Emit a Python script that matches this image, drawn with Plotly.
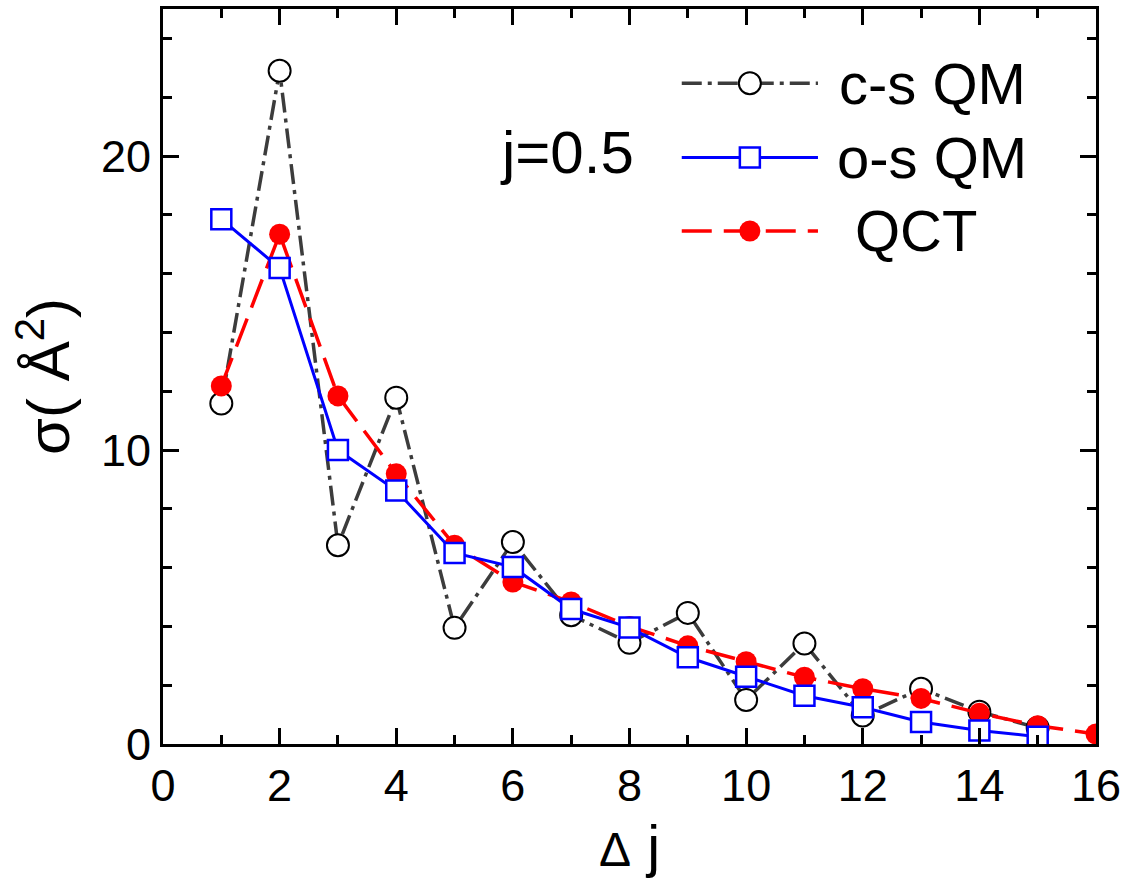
import plotly.graph_objects as go

# ---- data ----
dj_cs = [1, 2, 3, 4, 5, 6, 7, 8, 9, 10, 11, 12, 13, 14, 15]
sigma_cs = [11.58, 22.9, 6.76, 11.78, 3.95, 6.87, 4.38, 3.44, 4.46, 1.50, 3.42, 0.97, 1.88, 1.10, 0.55]

dj_os = [1, 2, 3, 4, 5, 6, 7, 8, 9, 10, 11, 12, 13, 14, 15]
sigma_os = [17.85, 16.19, 10.0, 8.62, 6.50, 6.02, 4.59, 3.96, 2.95, 2.29, 1.64, 1.25, 0.75, 0.46, 0.25]

dj_qct = [1, 2, 3, 4, 5, 6, 7, 8, 9, 10, 11, 12, 13, 14, 15, 16]
sigma_qct = [12.18, 17.34, 11.84, 9.19, 6.76, 5.51, 4.83, 4.00, 3.34, 2.80, 2.27, 1.88, 1.55, 1.05, 0.62, 0.34]

names = ["c-s QM", "o-s QM", "QCT"]
x_ticks = [0, 2, 4, 6, 8, 10, 12, 14, 16]
y_ticks = [0, 10, 20]

FONT = "Arial, Liberation Sans, sans-serif"
GRAY = "#3c3c3c"
BLUE = "#0000ff"
RED = "#ff0000"

cs_line = dict(color=GRAY, width=3.5, dash="20px,6px,4px,6px")
cs_marker = dict(symbol="circle", size=22, color="white", line=dict(color="black", width=2))
os_line = dict(color=BLUE, width=3)
os_marker = dict(symbol="square", size=20, color="white", line=dict(color=BLUE, width=2.5))
qct_line = dict(color=RED, width=3.5, dash="30px,12px")
qct_marker = dict(symbol="circle", size=21, color=RED, line=dict(color=RED, width=0))

fig = go.Figure()
fig.add_trace(go.Scatter(x=dj_cs, y=sigma_cs, mode="lines+markers", name=names[0],
                         line=cs_line, marker=cs_marker, showlegend=False))
fig.add_trace(go.Scatter(x=dj_qct, y=sigma_qct, mode="lines+markers", name=names[2],
                         line=qct_line, marker=qct_marker, showlegend=False))
fig.add_trace(go.Scatter(x=dj_os, y=sigma_os, mode="lines+markers", name=names[1],
                         line=os_line, marker=os_marker, showlegend=False))

# ---- hand-drawn legend on an overlay axis in plot-fraction units ----
leg_rows = [0.899, 0.798, 0.698]
leg_x0, leg_x1, leg_xm = 0.556, 0.702, 0.629
styles = [(cs_line, cs_marker), (os_line, os_marker), (qct_line, qct_marker)]
for (ln, mk), yr in zip(styles, leg_rows):
    fig.add_trace(go.Scatter(x=[leg_x0, leg_x1], y=[yr, yr], mode="lines", line=ln,
                             xaxis="x2", yaxis="y2", showlegend=False, hoverinfo="skip"))
    fig.add_trace(go.Scatter(x=[leg_xm], y=[yr], mode="markers", marker=mk,
                             xaxis="x2", yaxis="y2", showlegend=False, hoverinfo="skip"))

leg_text_x = [0.7224, 0.7205, 0.7395]
for nm, yr, xt in zip(names, leg_rows, leg_text_x):
    fig.add_annotation(x=xt, y=yr, xref="x2", yref="y2", text=nm, showarrow=False,
                       xanchor="left", yanchor="middle", font=dict(family=FONT, size=58, color="black"))

fig.add_annotation(x=(498 - 163) / 933, y=(744 - 150) / 738, xref="x2", yref="y2", text="j=0.5",
                   showarrow=False, xanchor="left", yanchor="middle",
                   font=dict(family=FONT, size=60, color="black"))

axis_common = dict(showline=True, linecolor="black", linewidth=3, mirror="ticks",
                   ticks="inside", ticklen=16, tickwidth=3, tickcolor="black",
                   showgrid=False, zeroline=False,
                   tickfont=dict(family=FONT, size=45, color="black"))

fig.update_layout(
    width=1129, height=886,
    margin=dict(l=163, r=33, t=6, b=142),
    paper_bgcolor="white", plot_bgcolor="white",
    xaxis=dict(range=[0, 16], tickvals=x_ticks, ticktext=[str(v) for v in x_ticks],
               minor=dict(dtick=1, ticks="inside", ticklen=9, tickwidth=3, tickcolor="black", showgrid=False),
               title=dict(text="<span style='font-size:48px'>Δ</span> j", font=dict(family=FONT, size=58, color="black"),
                          standoff=16),
               **axis_common),
    yaxis=dict(range=[0, 25], tickvals=y_ticks, ticktext=[str(v) for v in y_ticks],
               minor=dict(dtick=2, ticks="inside", ticklen=9, tickwidth=3, tickcolor="black", showgrid=False),
               title=dict(text="σ( Å<sup>2</sup>)", font=dict(family=FONT, size=60, color="black"),
                          standoff=12),
               **axis_common),
    xaxis2=dict(overlaying="x", range=[0, 1], visible=False, fixedrange=True),
    yaxis2=dict(overlaying="y", range=[0, 1], visible=False, fixedrange=True),
    showlegend=False,
)

fig.write_html("out.html")
